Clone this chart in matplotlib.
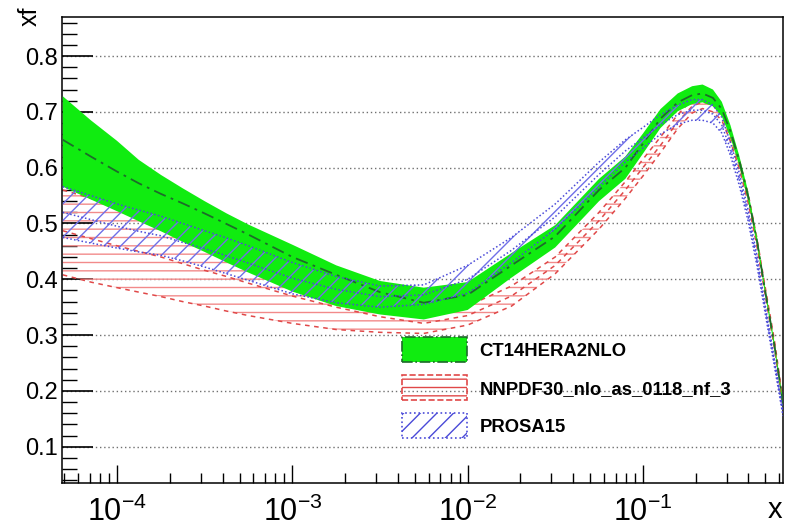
import matplotlib
matplotlib.use("Agg")
import matplotlib.pyplot as plt
from matplotlib.patches import Patch
from matplotlib.ticker import LogLocator, MultipleLocator, FixedLocator, NullFormatter

plt.rcParams['font.family'] = ['Liberation Sans', 'DejaVu Sans']
plt.rcParams['mathtext.fontset'] = 'custom'
plt.rcParams['mathtext.rm'] = 'Liberation Sans'
plt.rcParams['mathtext.it'] = 'Liberation Sans:italic'
plt.rcParams['mathtext.bf'] = 'Liberation Sans:bold'
plt.rcParams['hatch.linewidth'] = 1.0

# x values (read on the log axis)
x = [4.9e-5, 7.08e-5, 1e-4, 1.33e-4, 1.78e-4, 2.37e-4, 3.16e-4, 4.22e-4, 5.62e-4,
     1e-3, 1.78e-3, 3.16e-3, 5.62e-3, 1e-2, 1.78e-2, 3.16e-2, 5.62e-2, 7.94e-2,
     0.1, 0.126, 0.158, 0.191, 0.219, 0.251, 0.282, 0.316, 0.355, 0.398, 0.447,
     0.501, 0.562, 0.63]

# CT14HERA2NLO
ct_c = [0.65, 0.62, 0.593, 0.572, 0.553, 0.536, 0.518, 0.499, 0.48, 0.44, 0.408,
        0.377, 0.358, 0.372, 0.425, 0.477, 0.56, 0.60, 0.643, 0.688, 0.717, 0.73,
        0.733, 0.725, 0.705, 0.665, 0.612, 0.55, 0.47, 0.375, 0.283, 0.177]
ct_lo = [0.566, 0.543, 0.522, 0.504, 0.486, 0.467, 0.449, 0.43, 0.412, 0.378, 0.352,
         0.337, 0.328, 0.345, 0.403, 0.457, 0.54, 0.58, 0.625, 0.671, 0.701, 0.714,
         0.717, 0.71, 0.692, 0.654, 0.603, 0.542, 0.463, 0.369, 0.277, 0.171]
ct_hi = [0.728, 0.685, 0.648, 0.614, 0.587, 0.563, 0.54, 0.518, 0.498, 0.462, 0.425,
         0.397, 0.385, 0.395, 0.447, 0.497, 0.58, 0.62, 0.661, 0.705, 0.733, 0.746,
         0.749, 0.74, 0.718, 0.676, 0.621, 0.558, 0.477, 0.381, 0.289, 0.183]

# NNPDF30_nlo_as_0118_nf_3
nn_c = [0.487, 0.473, 0.46, 0.45, 0.44, 0.428, 0.416, 0.405, 0.393, 0.37, 0.35,
        0.333, 0.321, 0.335, 0.37, 0.425, 0.505, 0.56, 0.60, 0.64, 0.682, 0.71,
        0.718, 0.712, 0.695, 0.655, 0.606, 0.546, 0.467, 0.375, 0.285, 0.177]
nn_lo = [0.408, 0.395, 0.385, 0.377, 0.369, 0.36, 0.352, 0.343, 0.335, 0.321, 0.31,
         0.305, 0.303, 0.318, 0.352, 0.41, 0.49, 0.545, 0.585, 0.627, 0.67, 0.698,
         0.706, 0.70, 0.685, 0.647, 0.598, 0.538, 0.46, 0.368, 0.278, 0.172]
nn_hi = [0.56, 0.545, 0.53, 0.518, 0.505, 0.49, 0.475, 0.46, 0.446, 0.415, 0.388,
         0.362, 0.342, 0.352, 0.388, 0.44, 0.52, 0.575, 0.615, 0.655, 0.695, 0.722,
         0.728, 0.722, 0.705, 0.663, 0.614, 0.554, 0.474, 0.382, 0.292, 0.182]

# PROSA15
pr_c = [0.52, 0.507, 0.495, 0.486, 0.478, 0.466, 0.455, 0.442, 0.429, 0.402, 0.382,
        0.369, 0.372, 0.4, 0.452, 0.512, 0.588, 0.63, 0.653, 0.677, 0.695, 0.703,
        0.703, 0.696, 0.676, 0.633, 0.579, 0.515, 0.434, 0.343, 0.252, 0.16]
pr_lo = [0.475, 0.465, 0.456, 0.449, 0.443, 0.433, 0.422, 0.41, 0.398, 0.374, 0.358,
         0.35, 0.355, 0.375, 0.43, 0.49, 0.565, 0.61, 0.635, 0.66, 0.678, 0.685,
         0.685, 0.68, 0.662, 0.622, 0.568, 0.505, 0.425, 0.335, 0.245, 0.155]
pr_hi = [0.566, 0.55, 0.535, 0.524, 0.513, 0.5, 0.487, 0.474, 0.46, 0.43, 0.405,
         0.388, 0.39, 0.425, 0.475, 0.535, 0.61, 0.65, 0.672, 0.695, 0.712, 0.722,
         0.722, 0.712, 0.69, 0.645, 0.59, 0.525, 0.443, 0.35, 0.258, 0.165]

labels = ['CT14HERA2NLO', 'NNPDF30_nlo_as_0118_nf_3', 'PROSA15']

green = '#10ec10'
green_dark = '#1d6b2a'
red = '#e04848'
red_hatch = '#f28a8a'
blue = '#4a4ad8'
blue_hatch = '#6f6fe8'

fig = plt.figure(figsize=(7.94, 5.28), dpi=100)
ax = fig.add_axes([62 / 794, 1 - 483 / 528, (783 - 62) / 794, (483 - 17) / 528])

# NNPDF band (drawn first, partly covered by CT14)
ax.fill_between(x, nn_lo, nn_hi, facecolor='none', edgecolor=red_hatch, hatch='--',
                lw=0, zorder=2)
for yy in (nn_lo, nn_hi, nn_c):
    ax.plot(x, yy, color=red, ls=(0, (3, 3)), lw=1.1, zorder=2.5)

# CT14 band
ax.fill_between(x, ct_lo, ct_hi, facecolor=green, edgecolor='none', lw=0, zorder=3)
ax.plot(x, ct_c, color=green_dark, ls=(0, (7, 3, 1.5, 3)), lw=1.3, zorder=3.5)

# PROSA band
ax.fill_between(x, pr_lo, pr_hi, facecolor='none', edgecolor=blue_hatch, hatch='//',
                lw=0, zorder=4)
for yy in (pr_lo, pr_hi, pr_c):
    ax.plot(x, yy, color=blue, ls=(0, (1, 1.5)), lw=1.1, zorder=4.5)

ax.set_xscale('log')
ax.set_xlim(4.85e-5, 0.63)
ax.set_ylim(0.035, 0.87)

ax.xaxis.set_major_locator(FixedLocator([1e-4, 1e-3, 1e-2, 1e-1]))
ax.set_xticklabels([r'$10^{-4}$', r'$10^{-3}$', r'$10^{-2}$', r'$10^{-1}$'])
ax.xaxis.set_minor_locator(LogLocator(base=10, subs=range(2, 10)))
ax.xaxis.set_minor_formatter(NullFormatter())
ax.yaxis.set_major_locator(FixedLocator([0.1, 0.2, 0.3, 0.4, 0.5, 0.6, 0.7, 0.8]))
ax.set_yticklabels(['0.1', '0.2', '0.3', '0.4', '0.5', '0.6', '0.7', '0.8'])
ax.yaxis.set_minor_locator(MultipleLocator(0.02))

ax.tick_params(axis='both', which='both', direction='in', top=False, right=False,
               colors='black')
ax.tick_params(axis='y', which='major', length=22, width=1.2, labelsize=17, pad=3)
ax.tick_params(axis='y', which='minor', length=11, width=1.0)
ax.tick_params(axis='x', which='major', length=13, width=1.0, labelsize=22, pad=10)
ax.tick_params(axis='x', which='minor', length=7, width=1.0)

ax.yaxis.grid(True, which='major', ls=(0, (1, 2)), color='#707070', lw=1.0)
ax.set_axisbelow(True)
for s in ax.spines.values():
    s.set_linewidth(1.1)

fig.text(30 / 794, 1 - 6 / 528, 'xf', rotation=90, ha='center', va='top', fontsize=18)
fig.text(775 / 794, 1 - 510 / 528, 'x', ha='center', va='center', fontsize=21)

handles = [
    Patch(facecolor=green, edgecolor=green_dark, ls='-.', lw=1.2),
    Patch(facecolor='none', edgecolor=red, hatch='--', ls='--', lw=1.2),
    Patch(facecolor='none', edgecolor=blue, hatch='//', ls=':', lw=1.2),
]
fs = 13.3
ax.legend(handles, labels, loc='upper left', bbox_to_anchor=(402 / 794, 1 - 337 / 528),
          bbox_transform=fig.transFigure, frameon=False, borderpad=0, borderaxespad=0,
          handlelength=3.5, handleheight=1.72, labelspacing=0.7, handletextpad=0.7,
          prop={'weight': 'bold', 'size': fs})

fig.savefig('out.png', dpi=100)
